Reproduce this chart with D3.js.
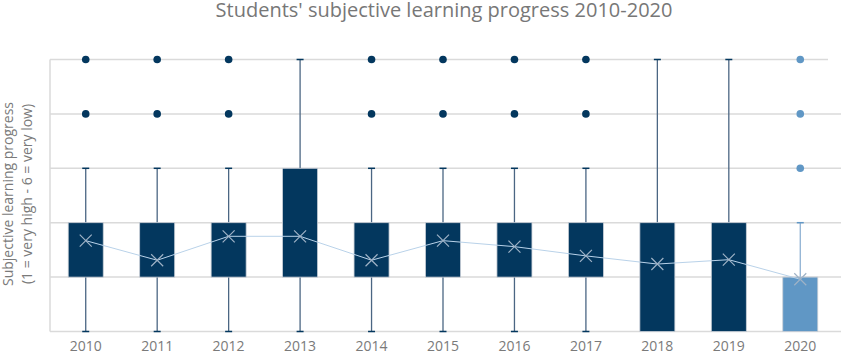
<!DOCTYPE html>
<html>
<head>
<meta charset="utf-8">
<script src="https://cdn.jsdelivr.net/npm/d3@7"></script>
<style>
  body { margin: 0; background: #fff; }
  svg { display: block; font-family: "Open Sans", sans-serif; }
</style>
</head>
<body>
<div id="chart"></div>
<script>
const years = ["2010", "2011", "2012", "2013", "2014", "2015", "2016", "2017", "2018", "2019", "2020"];
const lowWhisker = [1, 1, 1, 1, 1, 1, 1, 1, 1, 1, 1];
const q1 = [2, 2, 2, 2, 2, 2, 2, 2, 1, 1, 1];
const q3 = [3, 3, 3, 4, 3, 3, 3, 3, 3, 3, 2];
const highWhisker = [4, 4, 4, 6, 4, 4, 4, 4, 6, 6, 3];
const means = [2.67, 2.31, 2.75, 2.75, 2.31, 2.67, 2.56, 2.39, 2.24, 2.32, 1.96];
const outliers = [[5, 6], [5, 6], [5, 6], [], [5, 6], [5, 6], [5, 6], [5, 6], [], [], [4, 5, 6]];
const yTicks = [1, 2, 3, 4, 5, 6];

const width = 841, height = 354;
const margin = { top: 59, right: 5, bottom: 22, left: 50 };
const svg = d3.select("#chart").append("svg").attr("width", width).attr("height", height);

const x = d3.scaleBand().domain(years).range([margin.left, 836]).paddingInner(0).paddingOuter(0);
const y = d3.scaleLinear().domain([1, 6]).range([331.5, 59.5]);
const boxW = 35;
const colorOf = (i) => (years[i] === "2020" ? "#6097c5" : "#03375e");

// grid
svg.append("g").selectAll("line").data(yTicks).join("line")
  .attr("x1", margin.left).attr("x2", (d) => (d === 6 ? 828 : 841))
  .attr("y1", (d) => y(d)).attr("y2", (d) => y(d))
  .attr("stroke", "#dadada").attr("stroke-width", 1.5);
svg.append("line").attr("x1", margin.left).attr("x2", margin.left)
  .attr("y1", y(6)).attr("y2", y(1)).attr("stroke", "#dadada").attr("stroke-width", 1.5);

const cx = (i) => x(years[i]) + x.bandwidth() / 2;
const idx = d3.range(years.length);

// whiskers
const wh = svg.append("g");
idx.forEach((i) => {
  const c = colorOf(i);
  const lineCol = years[i] === "2020" ? "#8fb1d3" : "#4b6683";
  if (highWhisker[i] > q3[i]) {
    wh.append("line").attr("x1", cx(i)).attr("x2", cx(i)).attr("y1", y(q3[i])).attr("y2", y(highWhisker[i]))
      .attr("stroke", lineCol).attr("stroke-width", 1.3);
    wh.append("line").attr("x1", cx(i) - 3.5).attr("x2", cx(i) + 3.5).attr("y1", y(highWhisker[i])).attr("y2", y(highWhisker[i]))
      .attr("stroke", c).attr("stroke-width", 1.5);
  }
  if (lowWhisker[i] < q1[i]) {
    wh.append("line").attr("x1", cx(i)).attr("x2", cx(i)).attr("y1", y(q1[i])).attr("y2", y(lowWhisker[i]))
      .attr("stroke", lineCol).attr("stroke-width", 1.3);
    wh.append("line").attr("x1", cx(i) - 3.5).attr("x2", cx(i) + 3.5).attr("y1", y(lowWhisker[i])).attr("y2", y(lowWhisker[i]))
      .attr("stroke", c).attr("stroke-width", 1.5);
  }
});

// boxes
svg.append("g").selectAll("rect").data(idx).join("rect")
  .attr("x", (i) => cx(i) - boxW / 2).attr("width", boxW)
  .attr("y", (i) => y(q3[i])).attr("height", (i) => y(q1[i]) - y(q3[i]))
  .attr("fill", colorOf).attr("stroke", "#c8ced6").attr("stroke-width", 0.8);

// outliers
const pts = idx.flatMap((i) => outliers[i].map((v) => ({ i, v })));
svg.append("g").selectAll("circle").data(pts).join("circle")
  .attr("cx", (d) => cx(d.i)).attr("cy", (d) => y(d.v)).attr("r", 3.8)
  .attr("fill", (d) => colorOf(d.i));

// mean line and markers
const line = d3.line().x((i) => cx(i)).y((i) => y(means[i]));
svg.append("path").datum(idx).attr("d", line).attr("fill", "none")
  .attr("stroke", "#b9d2e9").attr("stroke-width", 1);
svg.append("g").selectAll("path").data(idx).join("path")
  .attr("d", (i) => { const a = cx(i), b = y(means[i]), s = 6; return `M${a - s},${b - s}L${a + s},${b + s}M${a - s},${b + s}L${a + s},${b - s}`; })
  .attr("stroke", "#9fb2c6").attr("stroke-width", 1.2).attr("fill", "none");

// x labels
svg.append("g").selectAll("text").data(years).join("text")
  .attr("x", (d) => x(d) + x.bandwidth() / 2).attr("y", 350.5)
  .attr("text-anchor", "middle").attr("font-size", 14).attr("fill", "#7a7a7a").text((d) => d);

// title
svg.append("text").attr("x", 444).attr("y", 17).attr("text-anchor", "middle")
  .attr("font-size", 20).attr("fill", "#777").text("Students' subjective learning progress 2010-2020");

// y label
const yl = svg.append("text").attr("transform", "translate(1,194) rotate(-90)")
  .attr("text-anchor", "middle").attr("font-size", 14).attr("fill", "#7a7a7a");
yl.append("tspan").attr("x", 0).attr("y", 12).text("Subjective learning progress");
yl.append("tspan").attr("x", 0).attr("y", 31).text("(1 = very high - 6 = very low)");
</script>
</body>
</html>
